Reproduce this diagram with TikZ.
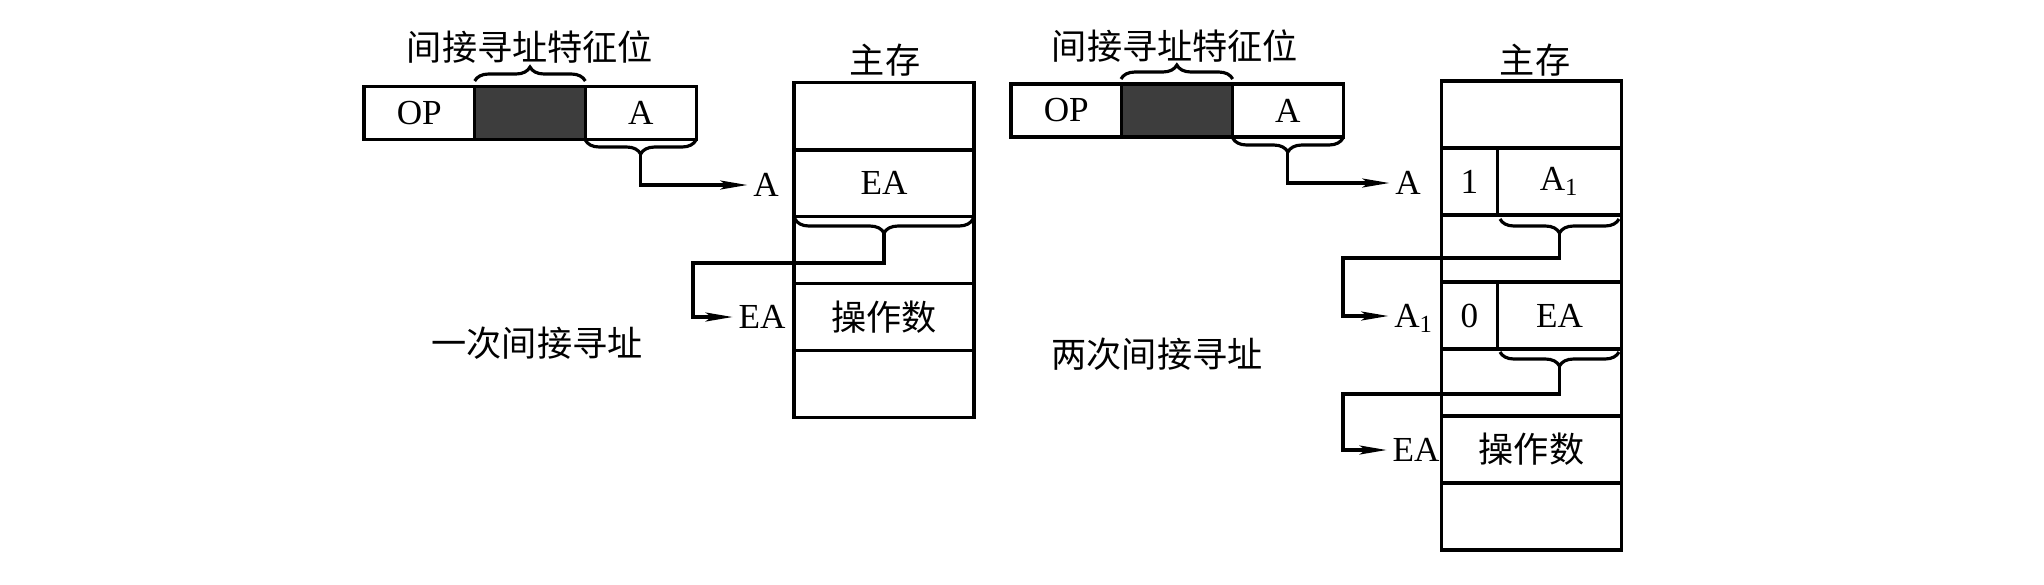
\documentclass[tikz,border=0pt]{standalone}
\usepackage{fontspec}
\setmainfont{Liberation Serif}
\newfontfamily\cjk{Noto Sans CJK SC}
\usetikzlibrary{arrows.meta,decorations.pathreplacing}
\pgfdeclarelayer{nodelayer}
\pgfdeclarelayer{edgelayer}
\pgfsetlayers{edgelayer,nodelayer,main}
\tikzstyle{field}=[fill=none, draw=black, shape=rectangle, line width=0.9pt, minimum width=1.107cm, minimum height=0.53cm, inner sep=0pt]
\tikzstyle{flag field}=[field, fill=black!76]
\tikzstyle{word}=[fill=none, draw=black, shape=rectangle, line width=0.9pt, minimum width=1.8cm, minimum height=0.67cm, inner sep=0pt]
\tikzstyle{bit}=[word, minimum width=0.56cm]
\tikzstyle{half word}=[word, minimum width=1.24cm]
\tikzstyle{none}=[fill=none, draw=none, shape=circle, scale=0]
\tikzstyle{addr}=[fill=none, draw=none, shape=rectangle, inner sep=1.5pt, text depth=0pt]
\tikzstyle{caption}=[fill=none, draw=none, shape=rectangle, font=\fontsize{10}{12}\selectfont\cjk]
\tikzstyle{brace edge}=[draw=black, line width=0.9pt, decorate, decoration={brace, amplitude=0.14cm}]
\tikzstyle{pointer edge}=[draw=black, line width=0.9pt, -{Stealth[length=0.27cm, width=0.09cm, inset=0.06cm]}]

\begin{document}
\begin{tikzpicture}[x=0.01cm, y=-0.01cm, font=\fontsize{10}{12}\selectfont]
	\useasboundingbox (0, 0) rectangle (2044, 584);
	\begin{pgfonlayer}{nodelayer}
		% one level
		\node [style=field] (0) at (419.3, 113) {OP};
		\node [style=flag field] (1) at (530, 113) {};
		\node [style=field] (2) at (640.7, 113) {A};
		\node [style=caption] (3) at (530, 47) {间接寻址特征位};
		\node [style=word] (4) at (884, 116.4) {};
		\node [style=word] (5) at (884, 183.2) {EA};
		\node [style=word] (6) at (884, 250) {};
		\node [style=word] (7) at (884, 316.8) {\cjk 操作数};
		\node [style=word] (8) at (884, 383.6) {};
		\node [style=caption] (9) at (885, 60) {主存};
		\node [style=addr] (10) at (766, 185) {A};
		\node [style=addr] (11) at (762, 317) {EA};
		\node [style=caption] (12) at (537, 343) {一次间接寻址};
		\node [style=none] (13) at (474.7, 81) {};
		\node [style=none] (14) at (585.3, 81) {};
		\node [style=none] (15) at (696, 140) {};
		\node [style=none] (16) at (585.3, 140) {};
		\node [style=none] (17) at (640.7, 154) {};
		\node [style=none] (18) at (640.7, 185) {};
		\node [style=none] (19) at (973, 219) {};
		\node [style=none] (20) at (795, 219) {};
		\node [style=none] (21) at (884, 233) {};
		\node [style=none] (22) at (884, 263) {};
		\node [style=none] (23) at (693, 263) {};
		\node [style=none] (24) at (693, 317) {};
		% two levels
		\node [style=field] (25) at (1066.3, 110.5) {OP};
		\node [style=flag field] (26) at (1177, 110.5) {};
		\node [style=field] (27) at (1287.7, 110.5) {A};
		\node [style=caption] (28) at (1175, 46) {间接寻址特征位};
		\node [style=word] (29) at (1531.5, 114.5) {};
		\node [style=bit] (30) at (1469.5, 181.5) {1};
		\node [style=half word] (31) at (1559.5, 181.5) {A\textsubscript{1}};
		\node [style=word] (32) at (1531.5, 248.5) {};
		\node [style=bit] (33) at (1469.5, 315.5) {0};
		\node [style=half word] (34) at (1559.5, 315.5) {EA};
		\node [style=word] (35) at (1531.5, 382.5) {};
		\node [style=word] (36) at (1531.5, 449.5) {\cjk 操作数};
		\node [style=word] (37) at (1531.5, 516.5) {};
		\node [style=caption] (38) at (1535, 60) {主存};
		\node [style=addr] (39) at (1408, 183) {A};
		\node [style=addr] (40) at (1414, 316) {A\textsubscript{1}};
		\node [style=addr] (41) at (1416, 450) {EA};
		\node [style=caption] (42) at (1157, 354) {两次间接寻址};
		\node [style=none] (43) at (1121, 79) {};
		\node [style=none] (44) at (1232.7, 79) {};
		\node [style=none] (45) at (1343, 138) {};
		\node [style=none] (46) at (1232.7, 138) {};
		\node [style=none] (47) at (1287.7, 152) {};
		\node [style=none] (48) at (1287.7, 183) {};
		\node [style=none] (49) at (1619, 219) {};
		\node [style=none] (50) at (1500, 219) {};
		\node [style=none] (51) at (1559.5, 233) {};
		\node [style=none] (52) at (1559.5, 258) {};
		\node [style=none] (53) at (1343, 258) {};
		\node [style=none] (54) at (1343, 316) {};
		\node [style=none] (55) at (1619, 352) {};
		\node [style=none] (56) at (1500, 352) {};
		\node [style=none] (57) at (1559.5, 366) {};
		\node [style=none] (58) at (1559.5, 394) {};
		\node [style=none] (59) at (1343, 394) {};
		\node [style=none] (60) at (1343, 450) {};
	\end{pgfonlayer}
	\begin{pgfonlayer}{edgelayer}
		\draw [style=brace edge] (13.center) to (14.center);
		\draw [style=brace edge] (15.center) to (16.center);
		\draw [style=brace edge] (19.center) to (20.center);
		\draw [style=pointer edge] (17.center) to (18.center) to (10);
		\draw [style=pointer edge] (21.center) to (22.center) to (23.center) to (24.center) to (11);
		\draw [style=brace edge] (43.center) to (44.center);
		\draw [style=brace edge] (45.center) to (46.center);
		\draw [style=brace edge] (49.center) to (50.center);
		\draw [style=brace edge] (55.center) to (56.center);
		\draw [style=pointer edge] (47.center) to (48.center) to (39);
		\draw [style=pointer edge] (51.center) to (52.center) to (53.center) to (54.center) to (40);
		\draw [style=pointer edge] (57.center) to (58.center) to (59.center) to (60.center) to (41);
	\end{pgfonlayer}
\end{tikzpicture}
\end{document}
